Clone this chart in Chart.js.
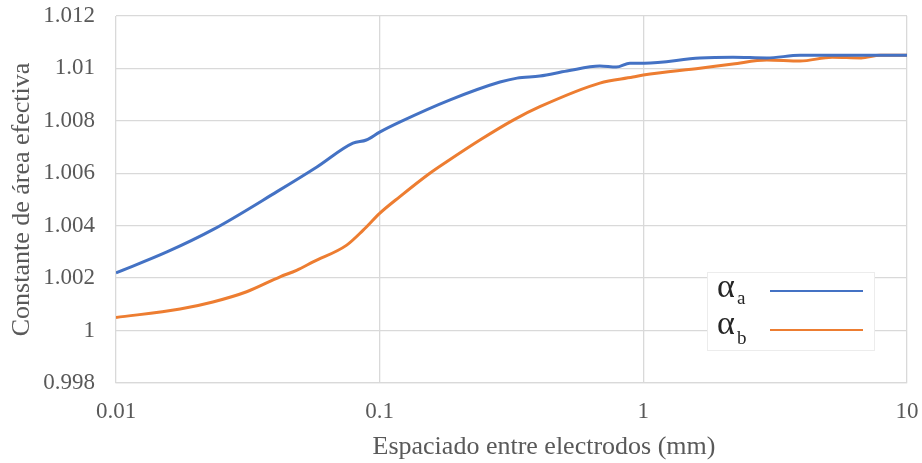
<!DOCTYPE html>
<html>
<head>
<meta charset="utf-8">
<script src="https://cdn.jsdelivr.net/npm/chart.js@4"></script>
<style>
  body { margin: 0; background: #fff; }
  #wrap { position: relative; width: 922px; height: 463px; }
  #legend {
    position: absolute; left: 707px; top: 272px; width: 166px; height: 77px;
    background: #fff; border: 1px solid #ececec;
  }
  .lg { position: absolute; line-height: 1; font-family: "Liberation Serif", "DejaVu Serif", serif; color: #262626; }
  .sym { font-size: 34px; }
  .sub { font-size: 19px; }
  .ln { position: absolute; left: 770px; width: 93px; height: 2px; }
  #xtitle {
    position: absolute; left: 544px; top: 433px; transform: translateX(-50%);
    white-space: nowrap; line-height: 1; font-size: 26px; color: #595959;
    font-family: "Liberation Serif", "DejaVu Serif", serif;
  }
</style>
</head>
<body>
<div id="wrap">
  <canvas id="chart" width="922" height="463"></canvas>
  <div id="xtitle">Espaciado entre electrodos (mm)</div>
  <div id="legend"></div>
  <div class="lg sym" style="left:717px; top:269px">α</div>
  <div class="lg sub" style="left:737px; top:288px">a</div>
  <div class="ln" style="top:290px; background:#4472C4"></div>
  <div class="lg sym" style="left:717px; top:306px">α</div>
  <div class="lg sub" style="left:737px; top:328px">b</div>
  <div class="ln" style="top:329px; background:#ED7D31"></div>
</div>
<script>
// spacing (mm) and effective-area constant
const spacingA = [0.01, 0.0156, 0.0233, 0.0408, 0.0578, 0.0792, 0.089, 0.1, 0.119, 0.185, 0.286, 0.332, 0.405, 0.513, 0.684, 0.79, 0.889, 1.01, 1.639, 2.187, 2.94, 3.93, 7.9, 10];
const alphaA   = [1.0022, 1.0030, 1.00385, 1.0053, 1.00624, 1.00715, 1.00727, 1.00757, 1.00795, 1.0088, 1.00948, 1.00963, 1.00971, 1.0099, 1.01009, 1.01005, 1.0102, 1.0102, 1.0104, 1.01043, 1.0104, 1.0105, 1.0105, 1.0105];

const spacingB = [0.01, 0.0175, 0.0233, 0.0313, 0.0419, 0.0484, 0.0559, 0.075, 0.0866, 0.1, 0.119, 0.155, 0.1795, 0.24, 0.321, 0.405, 0.684, 0.913, 1.0, 1.639, 2.187, 2.94, 3.93, 5.2, 6.7, 7.9, 10];
const alphaB   = [1.0005, 1.00082, 1.00109, 1.00148, 1.00205, 1.0023, 1.00262, 1.00326, 1.00383, 1.00447, 1.0051, 1.006, 1.00644, 1.00727, 1.00803, 1.00854, 1.00944, 1.00967, 1.00975, 1.01001, 1.01017, 1.01032, 1.01028, 1.01043, 1.0104, 1.0105, 1.0105];

const xTicks = [0.01, 0.1, 1, 10];
const yMin = 0.998, yMax = 1.012, yStep = 0.002;

const toXY = (xs, ys) => xs.map((x, i) => ({ x: x, y: ys[i] }));

const font = "'Liberation Serif', 'DejaVu Serif', serif";
const grey = "#595959";
const gridCol = "#d9d9d9";

new Chart(document.getElementById("chart"), {
  type: "line",
  data: {
    datasets: [
      { label: "αa", data: toXY(spacingA, alphaA), borderColor: "#4472C4", borderWidth: 3, pointRadius: 0, cubicInterpolationMode: "monotone" },
      { label: "αb", data: toXY(spacingB, alphaB), borderColor: "#ED7D31", borderWidth: 3, pointRadius: 0, cubicInterpolationMode: "monotone" }
    ]
  },
  options: {
    responsive: false,
    animation: false,
    layout: { padding: { top: 16, right: 15, left: 0, bottom: 0 } },
    plugins: { legend: { display: false }, tooltip: { enabled: false } },
    scales: {
      x: {
        type: "logarithmic",
        min: 0.01, max: 10,
        afterBuildTicks: s => { s.ticks = xTicks.map(v => ({ value: v })); },
        afterFit: s => { s.height = 80; s.paddingLeft = 0; s.paddingRight = 0; },
        grid: { color: gridCol, lineWidth: 1.3, drawTicks: false },
        border: { color: gridCol, width: 1.3 },
        ticks: { color: grey, font: { family: font, size: 23 }, padding: 15, maxRotation: 0,
                 callback: v => String(v) },
        title: { display: false }
      },
      y: {
        min: yMin, max: yMax,
        afterFit: s => { s.width = 116; s.paddingTop = 0; s.paddingBottom = 0; },
        grid: { color: gridCol, lineWidth: 1.3, drawTicks: false },
        border: { display: false },
        ticks: { stepSize: yStep, color: grey, font: { family: font, size: 23 }, padding: 21,
                 callback: v => String(parseFloat(v.toFixed(3))) },
        title: { display: true, text: "Constante de área efectiva", color: grey,
                 font: { family: font, size: 26 }, padding: { top: 7, bottom: 0 } }
      }
    }
  }
});
</script>
</body>
</html>
